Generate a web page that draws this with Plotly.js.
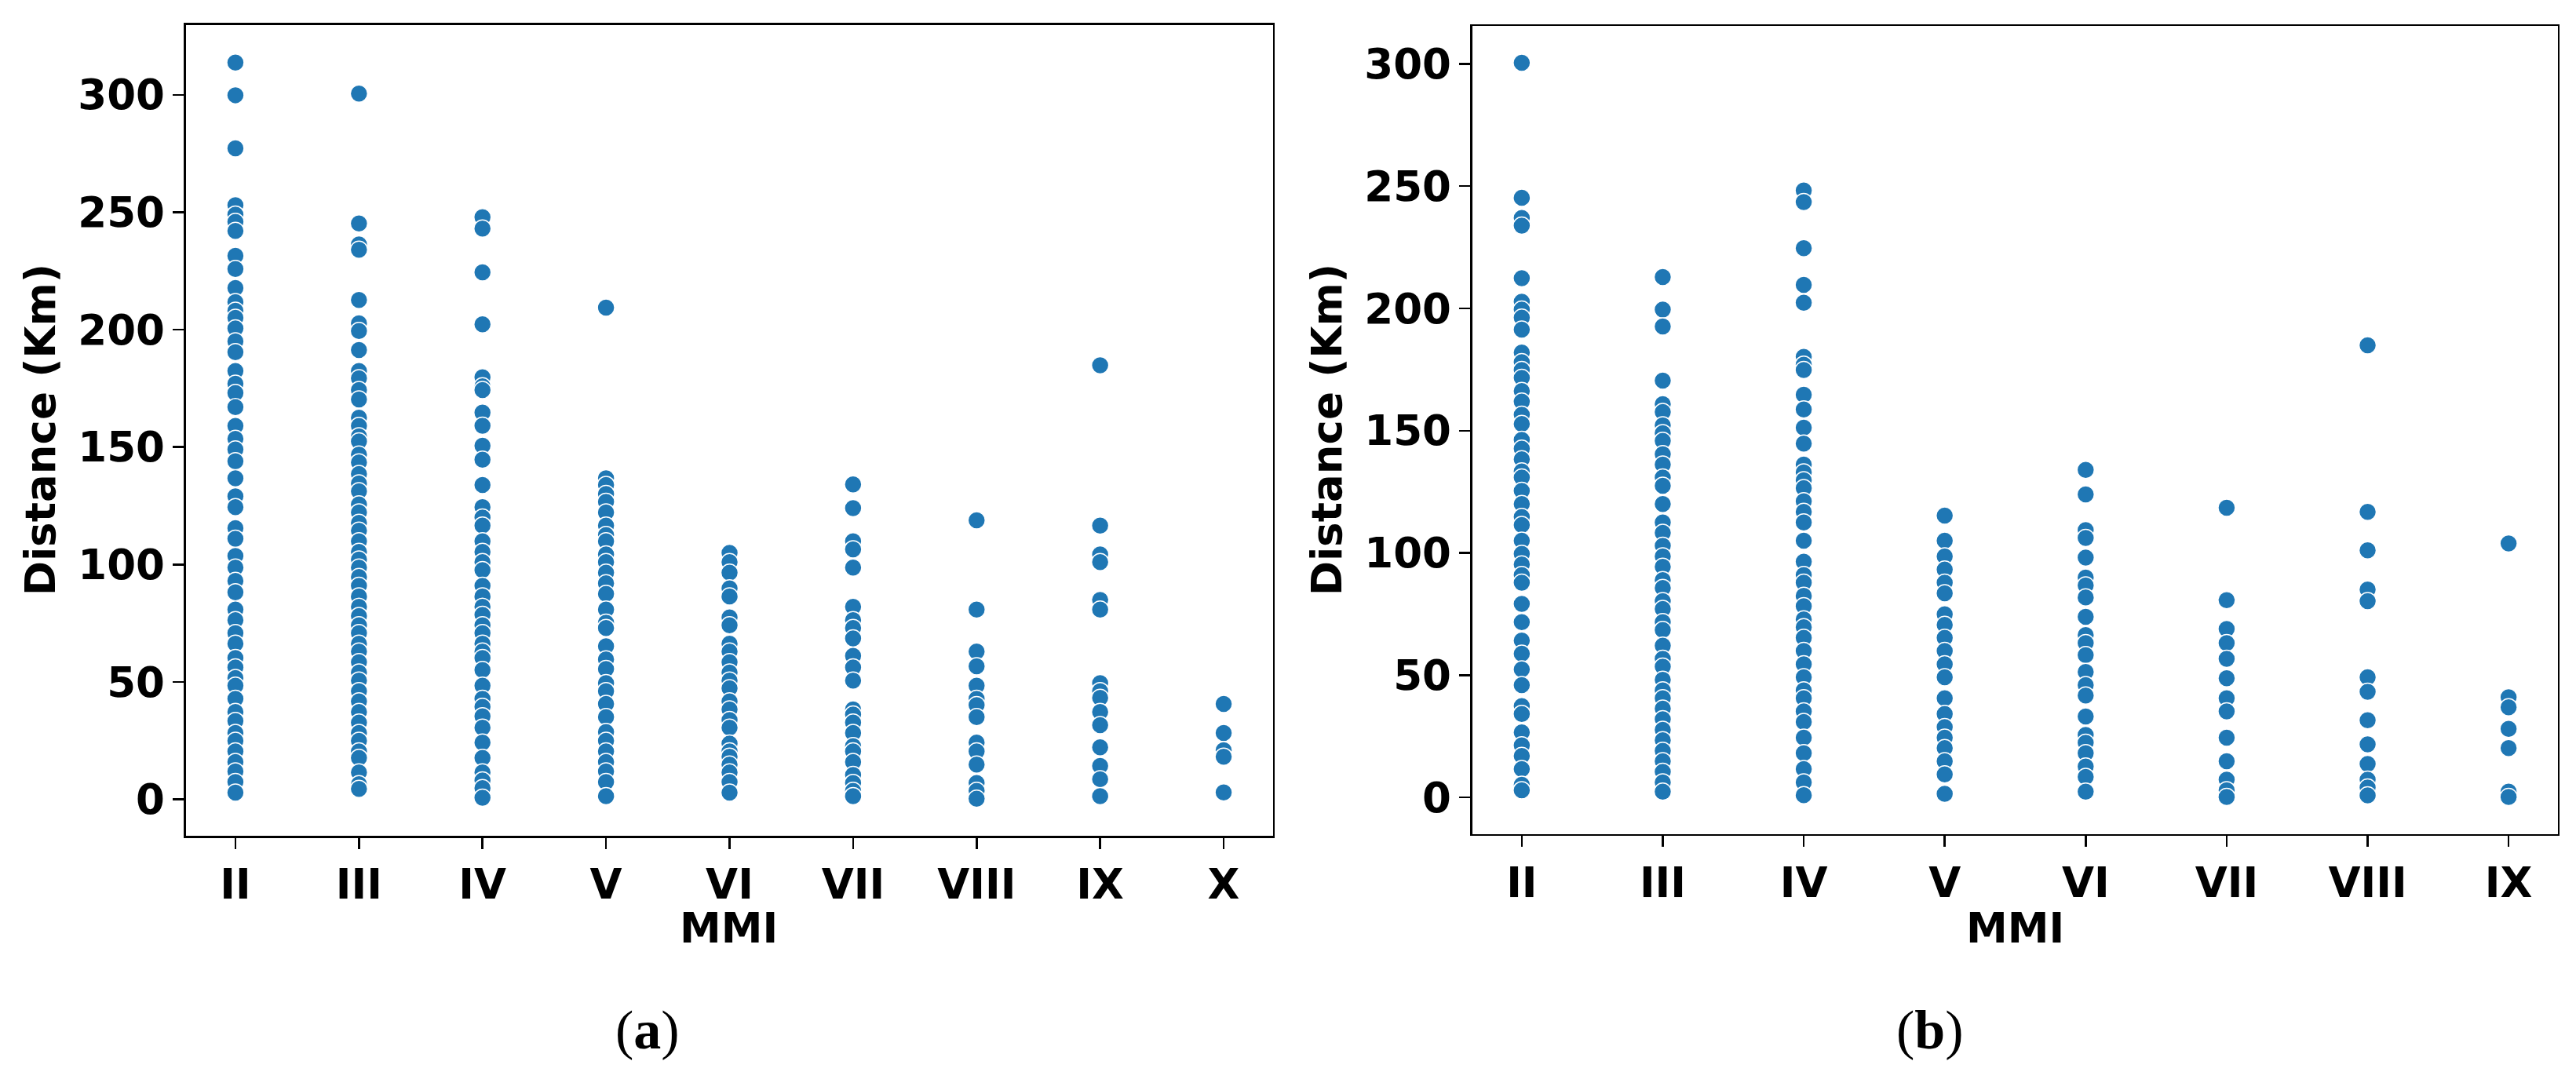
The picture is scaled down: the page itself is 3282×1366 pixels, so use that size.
<!DOCTYPE html>
<html>
<head>
<meta charset="utf-8">
<script src="https://cdn.plot.ly/plotly-3.0.1.min.js"></script>
<style>html,body{margin:0;padding:0;background:#fff;}#chart{width:3282px;height:1366px;}</style>
</head>
<body>
<div id="chart"></div>
<script>
// Tick labels (MMI categories)
const catsA = ["II","III","IV","V","VI","VII","VIII","IX","X"];
const catsB = ["II","III","IV","V","VI","VII","VIII","IX"];

// Panel (a): distances (Km) per MMI class
const a_II = [313.7,299.8,277.2,253,249,245.9,242,231.4,225.8,217.7,211.7,208,205,200.5,195,190.4,182.4,177,173,167,159,153.5,149,144,136.7,129,124.4,115.5,111,103.6,98.7,93,88.2,80.8,76.3,70.8,66.3,60.2,56.2,51.7,48.4,42.8,37.2,33.4,28.3,24.9,20.4,15.9,11.9,7.4,2.9];
const a_III = [300.5,245.2,236.3,234,212.6,202.7,199.4,191.3,182.4,179.3,174.3,170.3,162.5,159,154.6,152.4,146.8,143.5,138.5,134.5,131.2,125.6,122.2,117.7,114.4,109.9,105.4,102.1,98.7,94.7,90.9,86.4,82,78.1,74.1,70.8,66.3,62.9,58.4,54,50.6,46.1,41.7,37.2,32.7,28.3,24.9,20.4,17.7,11.5,6.5,4.5];
const a_IV = [247.9,243,224.4,202.3,179.7,175.9,174.3,164.7,159.1,150.6,144.6,133.9,124.4,120,116.6,109.9,105.4,101,97.6,90.9,86.4,82,78.6,74.1,70.8,66.3,62.9,60.2,55.1,48.4,42.8,39.4,35.4,30.5,24.2,17.7,11.5,8.1,4.8,0.7];
const a_V = [209.4,136.7,133.9,130,126.7,122.2,116.6,112.6,109.9,104.3,101,96.5,92,87.5,80.8,75.2,73,65.2,59.6,55.5,49.5,46.1,40.6,35,28.7,24.9,20.4,15.9,11.9,7.4,1.4];
const a_VI = [105,101,96.5,89.8,86.4,77.5,74.1,66.3,62.9,58.4,54,50.6,47.3,41.7,38.3,33.8,30.5,23.8,20.4,18.2,14.8,11.5,7.4,2.9];
const a_VII = [134.1,124,109.9,106.5,98.7,82,76.3,73,68.5,61.1,56.2,50.6,38.3,36.1,32.7,28.3,22.7,20.4,15.9,10.4,7,3.6,1.4];
const a_VIII = [118.8,80.8,62.9,56.7,48.4,42.8,40.1,35,24.2,20.4,14.8,7,3.6,0.3];
const a_IX = [184.8,116.6,104.3,101,84.9,80.8,49.5,46.1,43.2,37.2,31.6,22.2,14.2,8.6,1.4];
const a_X = [40.6,28.3,20.9,18.2,3];

// Panel (b): distances (Km) per MMI class
const b_II = [300.4,245.2,237,233.8,212.3,202.7,199.5,196.2,191.3,181.9,178,174.8,171.6,166.2,161.9,156.5,152.7,146.2,142.6,138.3,133.3,130.8,125.4,120,114.7,111.4,105,99.6,95.3,91,87.8,79.2,71.7,64.2,58.8,52.4,46,37.4,34.2,26.6,21.3,17,11.6,5.2,3];
const b_III = [212.8,199.5,192.6,170.5,160.8,157.6,152.2,149,145.8,140.4,136.1,130.8,127.5,120,112.5,108.2,102.9,98.6,94.3,88.9,85.7,80.3,77.1,71.7,68.5,62.1,56.7,53.5,48.1,43.8,40.6,36.3,32,27.7,23.4,19.1,14.8,10.5,6.2,2.4];
const b_IV = [248.2,243.5,224.6,209.6,202.3,180.2,177,174.8,164.7,158.7,151.2,144.7,136.1,132.9,129.7,126.5,121.1,116.8,112.5,105,96.4,91,87.8,82.5,78.2,72.8,69.6,65.3,59.9,54.5,49.2,43.8,40.6,35.2,30.9,24.5,18.1,11.6,6.2,1];
const b_V = [115.3,105,98.6,93.2,87.8,83.5,74.9,70.6,65.3,59.9,54.5,49.2,40.6,34.2,28.8,24.5,20.2,14.8,9.5,1.5];
const b_VI = [134,123.9,109.3,106.1,98.1,89.9,86.7,81.8,73.9,66.4,63.1,58.2,51.3,46,41.7,33.1,25.6,22.4,18.1,12.7,8.4,2.4];
const b_VII = [118.5,80.7,68.9,63.1,56.7,48.8,40.6,35.2,24.5,14.8,7.3,3,0.2];
const b_VIII = [184.9,116.8,101.1,85,80.3,49.2,43.2,31.6,21.7,13.7,7.3,4.1,0.9];
const b_IX = [103.9,41,36.9,28.1,20.2,2.4,0.2];

const groupsA = [a_II,a_III,a_IV,a_V,a_VI,a_VII,a_VIII,a_IX,a_X];
const groupsB = [b_II,b_III,b_IV,b_V,b_VI,b_VII,b_VIII,b_IX];

function flatten(cats, groups){
  const xs=[], ys=[];
  groups.forEach((g,i)=>g.forEach(v=>{xs.push(cats[i]); ys.push(v);}));
  return {xs, ys};
}
const A = flatten(catsA, groupsA);
const B = flatten(catsB, groupsB);

const blue = "#1f77b4";
const marker = {color: blue, size: 22, line: {color: "#ffffff", width: 1.5}};

const traces = [
  {type:"scatter", mode:"markers", x:A.xs, y:A.ys, xaxis:"x", yaxis:"y", marker:marker, showlegend:false, cliponaxis:false},
  {type:"scatter", mode:"markers", x:B.xs, y:B.ys, xaxis:"x2", yaxis:"y2", marker:marker, showlegend:false, cliponaxis:false}
];

const tickFont = {family:"DejaVu Sans", size:53, color:"#000", weight:"bold"};
function xax(domain, cats, range){
  return {domain:domain, type:"category", categoryorder:"array", categoryarray:cats, range:range,
    showline:true, mirror:true, linecolor:"#000", linewidth:2.5, showgrid:false, zeroline:false,
    ticks:"outside", ticklen:14, tickwidth:2.5, tickcolor:"#000", tickfont:tickFont, automargin:false};
}
function yax(domain, range, anchor){
  return {domain:domain, range:range, anchor:anchor, tickvals:[0,50,100,150,200,250,300],
    showline:true, mirror:true, linecolor:"#000", linewidth:2.5, showgrid:false, zeroline:false,
    ticks:"outside", ticklen:14, tickwidth:2.5, tickcolor:"#000", tickfont:tickFont, automargin:false};
}

const titleFont = {family:"DejaVu Sans", size:53, color:"#000", weight:"bold"};
const capFont = {family:"Liberation Serif", size:70, color:"#000"};

const layout = {
  width:3282, height:1366, margin:{l:0,r:0,t:0,b:0}, paper_bgcolor:"#fff", plot_bgcolor:"#fff",
  showlegend:false,
  xaxis: Object.assign(xax([0.07221,0.49421], catsA, [-0.4,8.4]), {anchor:"y"}),
  yaxis: yax([0.22035,0.97687], [-15.5,329.8], "x"),
  xaxis2: Object.assign(xax([0.57160,0.99299], catsB, [-0.35,7.35]), {anchor:"y2"}),
  yaxis2: yax([0.22182,0.97584], [-15,315.5], "x2"),
  annotations: [
    {text:"Distance (Km)", xref:"paper", yref:"paper", x:0.01554, y:0.5988, textangle:-90, showarrow:false, xanchor:"center", yanchor:"middle", font:titleFont},
    {text:"Distance (Km)", xref:"paper", yref:"paper", x:0.51493, y:0.5988, textangle:-90, showarrow:false, xanchor:"center", yanchor:"middle", font:titleFont},
    {text:"MMI", xref:"paper", yref:"paper", x:0.28305, y:0.134, showarrow:false, xanchor:"center", yanchor:"middle", font:titleFont},
    {text:"MMI", xref:"paper", yref:"paper", x:0.78230, y:0.134, showarrow:false, xanchor:"center", yanchor:"middle", font:titleFont},
    {text:"(<b>a</b>)", xref:"paper", yref:"paper", x:0.2514, y:0.0395, showarrow:false, xanchor:"center", yanchor:"middle", font:capFont},
    {text:"(<b>b</b>)", xref:"paper", yref:"paper", x:0.7492, y:0.0395, showarrow:false, xanchor:"center", yanchor:"middle", font:capFont}
  ]
};

Plotly.newPlot("chart", traces, layout, {staticPlot:true, displayModeBar:false});
</script>
</body>
</html>
